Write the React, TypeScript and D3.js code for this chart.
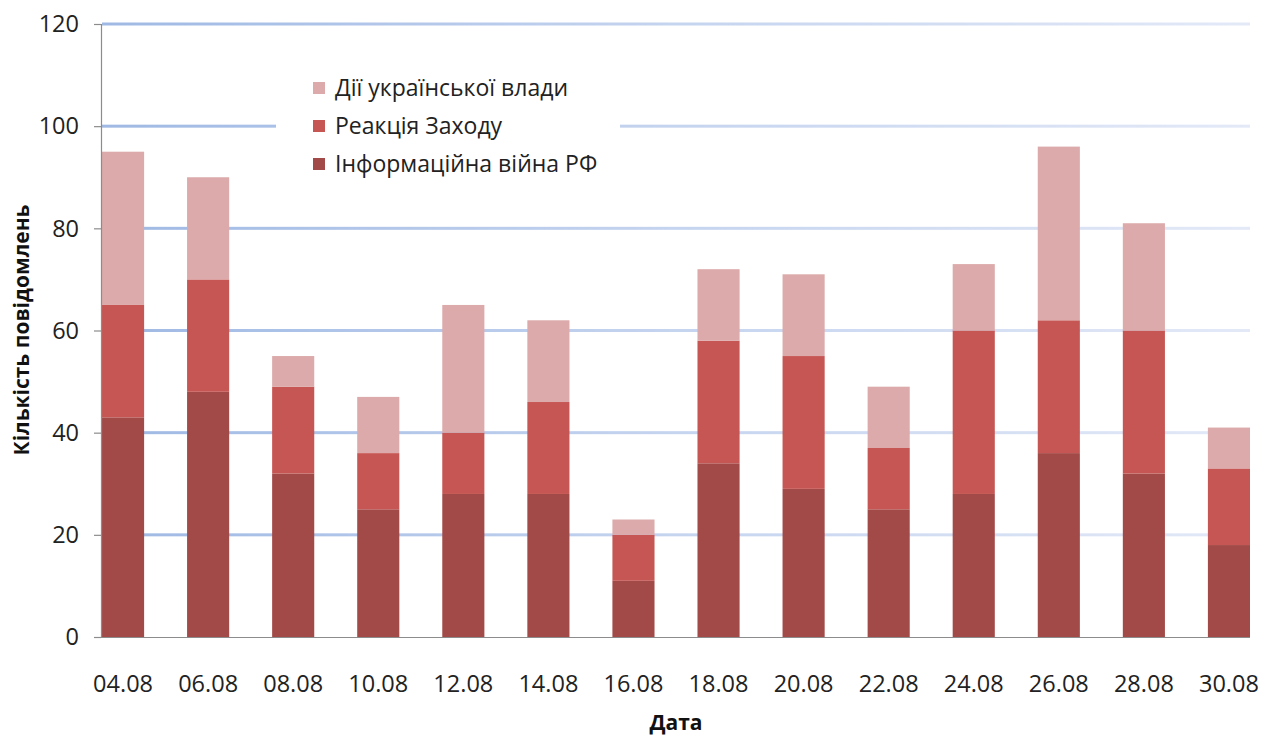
import React, { useEffect } from 'react';
import * as d3 from 'd3';

const dates = ['04.08', '06.08', '08.08', '10.08', '12.08', '14.08', '16.08', '18.08', '20.08', '22.08', '24.08', '26.08', '28.08', '30.08'];
// stacked segments, bottom to top
const infoWarRF = [43, 48, 32, 25, 28, 28, 11, 34, 29, 25, 28, 36, 32, 18];
const westReaction = [22, 22, 17, 11, 12, 18, 9, 24, 26, 12, 32, 26, 28, 15];
const ukrActions = [30, 20, 6, 11, 25, 16, 3, 14, 16, 12, 13, 34, 21, 8];
const yTicks = [0, 20, 40, 60, 80, 100, 120];

const seriesNames = ['Інформаційна війна РФ', 'Реакція Заходу', 'Дії української влади'];
const seriesColors = ['#a24a48', '#c65653', '#dcaaaa'];

const W = 1263;
const H = 736;
const font = '"Open Sans", "Noto Sans", sans-serif';

export default function App() {
  useEffect(() => {
    document.body.style.margin = '0';
  }, []);

  const x = d3.scaleBand().domain(dates).range([102, 1250]).paddingInner(0.505).paddingOuter(0);
  const y = d3.scaleLinear().domain([0, 120]).range([637, 24]);

  const rows = dates.map((d, i) => ({ date: d, rf: infoWarRF[i], west: westReaction[i], ukr: ukrActions[i] }));
  const stacked = d3.stack().keys(['rf', 'west', 'ukr'])(rows as any);

  const legendItems = [2, 1, 0];

  return (
    <svg width={W} height={H} style={{ display: 'block', background: '#fff' }}>
      <defs>
        <linearGradient id="grid" x1="0" x2="1" y1="0" y2="0">
          <stop offset="0" stopColor="#9fb9e4" />
          <stop offset="0.5" stopColor="#c5d4ef" />
          <stop offset="1" stopColor="#e3e9f7" />
        </linearGradient>
      </defs>

      {/* gridlines */}
      {yTicks.filter((t) => t > 0).map((t) => (
        <rect key={t} x={102} y={y(t) - 1.5} width={1148} height={3} fill="url(#grid)" />
      ))}

      {/* bars */}
      {stacked.map((s, si) => (
        <g key={si} fill={seriesColors[si]}>
          {s.map((d, i) => (
            <rect key={i} x={x(dates[i])} y={y(d[1])} width={x.bandwidth()} height={y(d[0]) - y(d[1])} />
          ))}
        </g>
      ))}

      {/* axes */}
      <line x1={101.5} x2={101.5} y1={y(120)} y2={y(0)} stroke="#8c8c8c" strokeWidth={1.2} />
      <line x1={94} x2={1250} y1={y(0) + 0.5} y2={y(0) + 0.5} stroke="#8c8c8c" strokeWidth={1.2} />
      {yTicks.map((t) => (
        <g key={t}>
          <line x1={94} x2={101} y1={y(t) + 0.5} y2={y(t) + 0.5} stroke="#8c8c8c" strokeWidth={1.2} />
          <text x={79} y={y(t)} dy="0.35em" textAnchor="end" fontFamily={font} fontSize={23.5} fill="#222">{t}</text>
        </g>
      ))}
      {dates.map((d) => (
        <text key={d} x={(x(d) as number) + x.bandwidth() / 2} y={684} dy="0.35em" textAnchor="middle" fontFamily={font} fontSize={23.5} fill="#222">{d}</text>
      ))}

      <text x={676} y={723} dy="0.35em" textAnchor="middle" fontFamily={font} fontSize={21} fontWeight="bold" fill="#111">Дата</text>
      <text transform={`translate(22,330) rotate(-90)`} dy="0.35em" textAnchor="middle" fontFamily={font} fontSize={21} fontWeight="bold" fill="#111">Кількість повідомлень</text>

      {/* legend */}
      <rect x={276} y={68} width={344} height={118} fill="#fff" />
      {legendItems.map((si, k) => (
        <g key={si} transform={`translate(313,${88 + k * 38})`}>
          <rect x={0} y={-6} width={12} height={12} fill={seriesColors[si]} />
          <text x={22} y={0} dy="0.35em" fontFamily={font} fontSize={23} fill="#222">{seriesNames[si]}</text>
        </g>
      ))}
    </svg>
  );
}
